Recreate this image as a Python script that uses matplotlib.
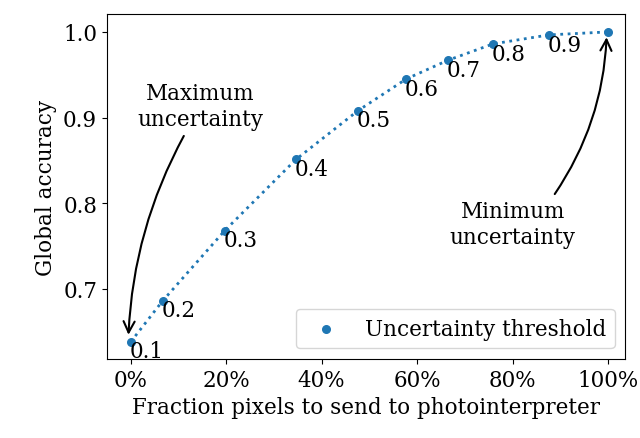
import matplotlib
matplotlib.use("Agg")
import matplotlib.pyplot as plt
from matplotlib.ticker import PercentFormatter

thresholds = ["0.1", "0.2", "0.3", "0.4", "0.5", "0.6", "0.7", "0.8", "0.9"]
fraction_pct = [0.0, 6.7, 19.7, 34.6, 47.6, 57.7, 66.5, 75.9, 87.6, 100.0]
accuracy = [0.638, 0.686, 0.768, 0.851, 0.908, 0.945, 0.967, 0.986, 0.9965, 1.0]

plt.rcParams["font.family"] = ["DejaVu Serif"]
plt.rcParams["font.size"] = 15.5

fig, ax = plt.subplots(figsize=(6.4, 4.39), dpi=100)
ax.plot(fraction_pct, accuracy, ":", color="tab:blue", lw=2)
ax.scatter(fraction_pct, accuracy, s=30, color="tab:blue", zorder=3,
           label="Uncertainty threshold")

for x, y, t in zip(fraction_pct, accuracy, thresholds):
    ax.annotate(t, (x, y), xytext=(-1, 1), textcoords="offset points",
                ha="left", va="top")

ax.annotate("Maximum\nuncertainty", xy=(fraction_pct[0] - 0.5, accuracy[0] + 0.005),
            xytext=(14.5, 0.886), ha="center", va="bottom",
            arrowprops=dict(arrowstyle="->", color="black", lw=1.5,
                            connectionstyle="arc3,rad=0.12",
                            mutation_scale=20, shrinkA=3, relpos=(0.4, 0)))
ax.annotate("Minimum\nuncertainty", xy=(fraction_pct[-1] - 0.3, accuracy[-1] - 0.003),
            xytext=(80, 0.748), ha="center", va="bottom",
            arrowprops=dict(arrowstyle="->", color="black", lw=1.5,
                            connectionstyle="arc3,rad=0.15",
                            mutation_scale=20, shrinkA=3, relpos=(0.8, 1)))

ax.set_xlim(-5, 103.6)
ax.set_ylim(0.618, 1.021)
ax.set_yticks([0.7, 0.8, 0.9, 1.0])
ax.xaxis.set_major_formatter(PercentFormatter(decimals=0))
ax.set_xlabel("Fraction pixels to send to photointerpreter")
ax.set_ylabel("Global accuracy")
ax.legend(loc="lower right")

fig.subplots_adjust(left=0.167, right=0.977, top=0.966, bottom=0.18)
fig.savefig("out.png", dpi=100)
